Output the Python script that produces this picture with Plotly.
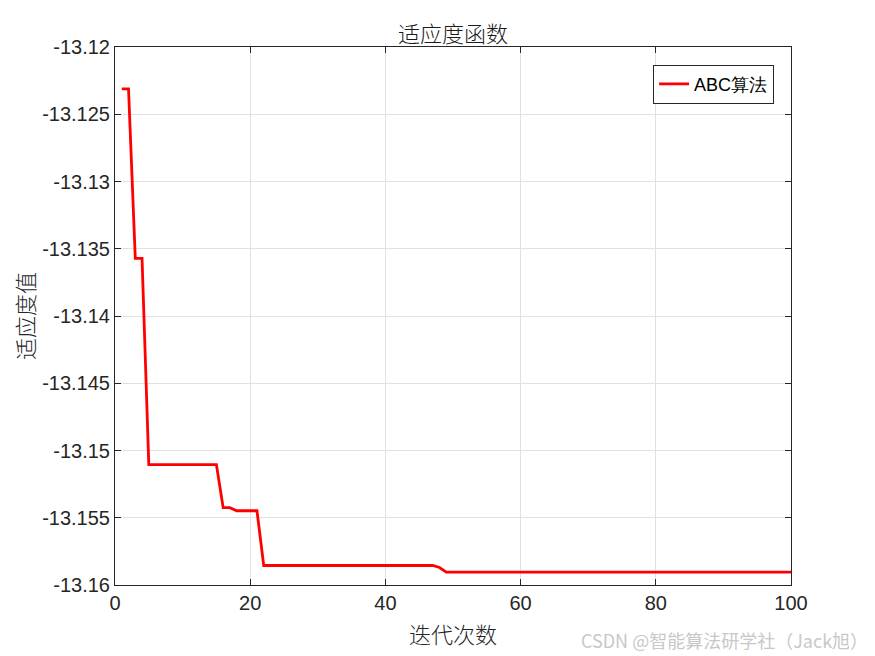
import plotly.graph_objects as go

iterations = list(range(1, 101))
step_x = [1, 2, 3, 4, 5, 15, 16, 17, 18, 21, 22, 47, 48, 49, 100]
step_y = [-13.12311, -13.12311, -13.13572, -13.13572, -13.15105, -13.15105,
          -13.15425, -13.15425, -13.15448, -13.15448, -13.15855, -13.15855,
          -13.15870, -13.15904, -13.15904]
# fitness value per iteration (held constant between the read-off points)
fitness = []
for it in iterations:
    v = step_y[0]
    for sx, sy in zip(step_x, step_y):
        if it >= sx:
            v = sy
    fitness.append(v)

x_ticks = [0, 20, 40, 60, 80, 100]
y_ticks = [-13.16, -13.155, -13.15, -13.145, -13.14, -13.135, -13.13, -13.125, -13.12]
y_tick_text = ["-13.16", "-13.155", "-13.15", "-13.145", "-13.14", "-13.135", "-13.13", "-13.125", "-13.12"]

cjk = "Noto Sans CJK SC"
latin = "Liberation Sans, Arial"

fig = go.Figure()
fig.add_trace(go.Scatter(x=iterations, y=fitness, mode="lines", name="ABC算法",
                         line=dict(color="#ff0000", width=2.8)))

axis_common = dict(showline=True, linecolor="#262626", linewidth=1, mirror="ticks",
                   ticks="inside", ticklen=6, tickcolor="#262626",
                   showgrid=True, gridcolor="#e1e1e1", gridwidth=1, zeroline=False,
                   tickfont=dict(family=latin, size=20, color="#262626"))

fig.update_layout(
    width=867, height=648,
    margin=dict(l=107, r=84, t=39, b=71),
    paper_bgcolor="white", plot_bgcolor="white",
    title=dict(text="适应度函数", x=0.5, xref="paper", xanchor="center", y=0.96, yanchor="middle",
               font=dict(family=cjk, size=22, color="#1a1a1a", weight=300)),
    xaxis=dict(range=[0, 100], tickvals=x_ticks,
               title=dict(text="迭代次数", font=dict(family=cjk, size=22, color="#262626", weight=300), standoff=14),
               **axis_common),
    yaxis=dict(range=[-13.16, -13.12], tickvals=y_ticks, ticktext=y_tick_text,
               title=dict(text="适应度值", font=dict(family=cjk, size=22, color="#262626", weight=300), standoff=5),
               **axis_common),
    legend=dict(x=0.975, y=0.967, xanchor="right", yanchor="top",
                bgcolor="white", bordercolor="#262626", borderwidth=1,
                font=dict(family=latin, size=18, color="#000000")),
    showlegend=True,
)

fig.add_annotation(text="CSDN @智能算法研学社（Jack旭）", xref="paper", yref="paper",
                   x=1.117, y=-0.102, xanchor="right", yanchor="middle", showarrow=False,
                   font=dict(family=cjk, size=18, color="#c8c8c8"))

fig.write_html("out.html")
